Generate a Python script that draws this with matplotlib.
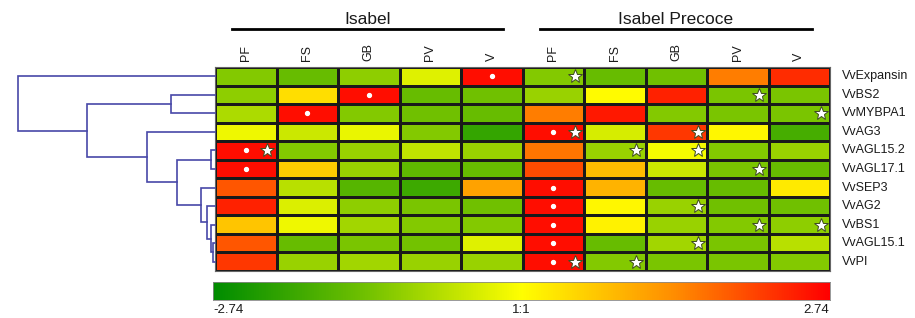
import numpy as np
import matplotlib
matplotlib.use("Agg")
import matplotlib.pyplot as plt
from matplotlib.colors import LinearSegmentedColormap

plt.rcParams['font.family'] = ['Liberation Sans', 'DejaVu Sans']

genes = ["VvExpansin", "VvBS2", "VvMYBPA1", "VvAG3", "VvAGL15.2", "VvAGL17.1",
         "VvSEP3", "VvAG2", "VvBS1", "VvAGL15.1", "VvPI"]
tissues = ["PF", "FS", "GB", "PV", "V"]
groups = ["Isabel", "Isabel Precoce"]

# log ratios, columns: Isabel PF FS GB PV V | Isabel Precoce PF FS GB PV V
isabel = [
    [-1.2, -1.5, -1.1, -0.3, 2.6],
    [-1.1, 0.4, 2.6, -1.5, -1.4],
    [-0.8, 2.6, -1.2, -1.4, -1.5],
    [-0.15, -0.5, -0.2, -1.2, -2.1],
    [2.6, -1.2, -1.0, -0.6, -1.0],
    [2.6, 0.6, -1.0, -1.6, -1.5],
    [1.9, -0.7, -1.7, -2.0, 1.1],
    [2.4, -0.35, -1.1, -1.3, -1.4],
    [0.7, -0.15, -0.9, -1.2, -1.2],
    [1.9, -1.5, -1.3, -1.35, -0.3],
    [2.2, -1.0, -0.9, -1.0, -1.0],
]
precoce = [
    [-1.2, -1.5, -1.4, 1.5, 2.3],
    [-1.0, 0.05, 2.4, -1.3, -1.3],
    [1.5, 2.5, -1.2, -1.3, -1.3],
    [2.6, -0.4, 2.2, 0.1, -1.9],
    [1.6, -1.0, -0.1, -1.2, -1.0],
    [2.0, 0.8, -0.5, -1.3, -1.5],
    [2.6, 0.9, -1.5, -1.5, 0.25],
    [2.6, 0.1, -1.0, -1.4, -1.4],
    [2.6, 0.15, -1.0, -1.2, -1.1],
    [2.6, -1.5, -0.9, -1.3, -0.7],
    [2.6, -1.2, -1.3, -1.3, -1.2],
]
vmin, vmax = -2.74, 2.74

# (row, col) of white dots and stars
dots = [(0, 4), (1, 2), (2, 1), (3, 5), (4, 0), (5, 0), (6, 5), (7, 5), (8, 5), (9, 5), (10, 5)]
stars = [(0, 5), (1, 8), (2, 9), (3, 5), (3, 7), (4, 0), (4, 6), (4, 7), (5, 8),
         (7, 7), (8, 8), (8, 9), (9, 7), (10, 5), (10, 6)]

# dendrogram merges: (left id, right id, height), new ids start at 11
merges = [(9, 10, 2), (8, 11, 4), (7, 12, 8), (6, 13, 14), (4, 5, 4),
          (15, 14, 38), (3, 16, 68), (1, 2, 44), (18, 17, 128), (0, 19, 197)]

cmap = LinearSegmentedColormap.from_list("gyr", [
    (0.0, (0.0, 0.55, 0.0)),
    (0.25, (0.45, 0.76, 0.0)),
    (0.5, (1.0, 1.0, 0.0)),
    (0.75, (1.0, 0.55, 0.0)),
    (1.0, (1.0, 0.0, 0.0)),
])

W, H = 915, 318
fig = plt.figure(figsize=(W / 100, H / 100), dpi=100)

def box(x0, y0, x1, y1):
    return [x0 / W, 1 - y1 / H, (x1 - x0) / W, (y1 - y0) / H]

data = np.hstack([np.array(isabel), np.array(precoce)])
n_rows, n_cols = data.shape

ax = fig.add_axes(box(215, 67, 830, 271))
ax.pcolormesh(np.arange(n_cols + 1), np.arange(n_rows + 1), data, cmap=cmap,
              vmin=vmin, vmax=vmax, edgecolors='#1a1a1a', linewidth=0.9)
ax.set_xlim(0, n_cols)
ax.set_ylim(n_rows, 0)
ax.set_xticks([])
ax.set_yticks([])
for s in ax.spines.values():
    s.set_color('#666666')
    s.set_linewidth(0.8)

for r, c in dots:
    ax.plot(c + 0.5, r + 0.5, 'o', ms=2.8, color='white', mec='white')
for r, c in stars:
    ax.plot(c + 0.85, r + 0.5, '*', ms=10, mfc='white', mec='#3d4a1e', mew=0.7)

# row labels
for i, g in enumerate(genes):
    ax.text(n_cols + 0.2, i + 0.5, g, ha='left', va='center', fontsize=9, color='#1a1a1a')

# column labels + group headers
labels = tissues + tissues
for j, lab in enumerate(labels):
    ax.text(j + 0.5, -0.35, lab, rotation=90, ha='center', va='bottom', fontsize=9, color='#1a1a1a')

for k, g in enumerate(groups):
    x0 = [232, 540][k]
    x1 = [503, 812][k]
    fig.add_artist(plt.Line2D([x0 / W, x1 / W], [1 - 29 / H, 1 - 29 / H], color='black', lw=2))
    fig.text((x0 + x1) / 2 / W, 1 - 19 / H, g, ha='center', va='center', fontsize=12.5, color='#1a1a1a')

# dendrogram
dax = fig.add_axes(box(0, 67, 215, 271))
dax.set_xlim(215, 0)
dax.set_ylim(n_rows, 0)
dax.axis('off')
pos = {i: i + 0.5 for i in range(n_rows)}
hgt = {i: 0 for i in range(n_rows)}
for k, (a, b, h) in enumerate(merges):
    nid = n_rows + k
    ya, yb = pos[a], pos[b]
    dax.plot([hgt[a], h, h, hgt[b]], [ya, ya, yb, yb], color='#4848a8', lw=1.2,
             solid_joinstyle='miter', clip_on=False)
    pos[nid] = (ya + yb) / 2
    hgt[nid] = h

# colour bar
cax = fig.add_axes(box(213, 282, 830, 300))
grad = np.linspace(vmin, vmax, 512)[None, :]
cax.imshow(grad, aspect='auto', cmap=cmap, vmin=vmin, vmax=vmax, extent=[vmin, vmax, 0, 1])
cax.set_xticks([])
cax.set_yticks([])
for s in cax.spines.values():
    s.set_color('#888888')
    s.set_linewidth(0.6)
fig.text(213 / W, 1 - 310 / H, "-2.74", ha='left', va='center', fontsize=9.5, color='#1a1a1a')
fig.text(521 / W, 1 - 310 / H, "1:1", ha='center', va='center', fontsize=9.5, color='#1a1a1a')
fig.text(829 / W, 1 - 310 / H, "2.74", ha='right', va='center', fontsize=9.5, color='#1a1a1a')

fig.savefig("out.png", dpi=100)
